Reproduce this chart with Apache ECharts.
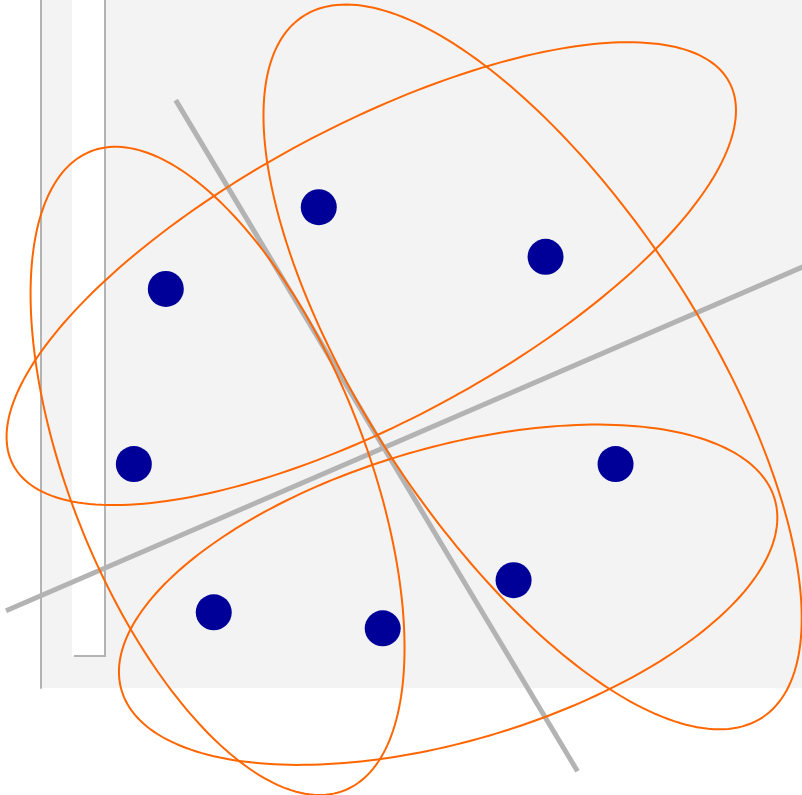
<!DOCTYPE html>
<html>
<head>
<meta charset="utf-8">
<style>
  html, body { margin: 0; padding: 0; background: #ffffff; }
  #chart { width: 802px; height: 795px; }
</style>
<script src="https://cdn.jsdelivr.net/npm/echarts@6/dist/echarts.min.js"></script>
</head>
<body>
<div id="chart"></div>
<script>
// Sample points
const pointX = [3.65, 6.63, 1.64, 1.22, 7.55, 6.21, 2.27, 4.49];
const pointY = [6.29, 5.64, 5.22, 2.93, 2.93, 1.41, 0.99, 0.78];

// Group ellipses: centre, semi-axes (data units) and tilt in degrees
const ellipseCx    = [4.34, 6.46, 5.35, 2.32];
const ellipseCy    = [5.42, 4.20, 1.22, 2.84];
const ellipseRx    = [5.33, 5.49, 4.47, 4.50];
const ellipseRy    = [1.93, 2.20, 1.92, 1.94];
const ellipseAngle = [28.0, -56.6, 16.2, -68.2];

// Reference axes drawn through the cloud: [x1, y1, x2, y2]
const axisLineA = [1.77, 7.69, 7.05, -1.09];
const axisLineB = [-0.46, 1.01, 10.5, 5.72];

const chart = echarts.init(document.getElementById('chart'));

const scatterData = pointX.map((x, i) => [x, pointY[i]]);
const ellipseData = ellipseCx.map((cx, i) => [cx, ellipseCy[i], ellipseRx[i], ellipseRy[i], ellipseAngle[i]]);

function renderEllipse(params, api) {
  const cx = api.value(0), cy = api.value(1);
  const rx = api.value(2), ry = api.value(3);
  const a = api.value(4) * Math.PI / 180;
  const ca = Math.cos(a), sa = Math.sin(a);
  const pts = [];
  const n = 240;
  for (let k = 0; k < n; k++) {
    const t = 2 * Math.PI * k / n;
    const ex = rx * Math.cos(t), ey = ry * Math.sin(t);
    pts.push(api.coord([cx + ex * ca - ey * sa, cy + ex * sa + ey * ca]));
  }
  return {
    type: 'polygon',
    shape: { points: pts },
    style: { fill: 'none', stroke: '#ff6600', lineWidth: 2 }
  };
}

function renderAxisLine(params, api) {
  const p1 = api.coord([api.value(0), api.value(1)]);
  const p2 = api.coord([api.value(2), api.value(3)]);
  return {
    type: 'line',
    shape: { x1: p1[0], y1: p1[1], x2: p2[0], y2: p2[1] },
    style: { stroke: '#b3b3b3', lineWidth: 5 }
  };
}

chart.setOption({
  animation: false,
  grid: {
    show: true,
    left: 41, right: 0, top: 0, bottom: 107,
    backgroundColor: '#f3f3f3',
    borderWidth: 0
  },
  xAxis: {
    type: 'value', min: 0, max: 10,
    axisLine: { show: false }, axisTick: { show: false },
    axisLabel: { show: false }, splitLine: { show: false }
  },
  yAxis: {
    type: 'value', min: 0, max: 9,
    axisLine: { show: true, lineStyle: { color: '#b3b3b3', width: 2 } },
    axisTick: { show: false }, axisLabel: { show: false }, splitLine: { show: false }
  },
  graphic: [
    { type: 'rect', z: 1, shape: { x: 72, y: -5, width: 33, height: 661 }, style: { fill: '#ffffff' } },
    { type: 'polyline', z: 1, shape: { points: [[74, 656], [105, 656], [105, -5]] },
      style: { stroke: '#b3b3b3', lineWidth: 2, fill: 'none' } }
  ],
  series: [
    {
      type: 'custom', data: [axisLineA, axisLineB], renderItem: renderAxisLine, z: 2,
      encode: { x: [0, 2], y: [1, 3] }
    },
    {
      type: 'custom', data: ellipseData, renderItem: renderEllipse, z: 3,
      encode: { x: 0, y: 1 }
    },
    {
      type: 'scatter', data: scatterData, symbolSize: 36, z: 4,
      itemStyle: { color: '#000099', opacity: 1 }
    }
  ]
});
</script>
</body>
</html>
